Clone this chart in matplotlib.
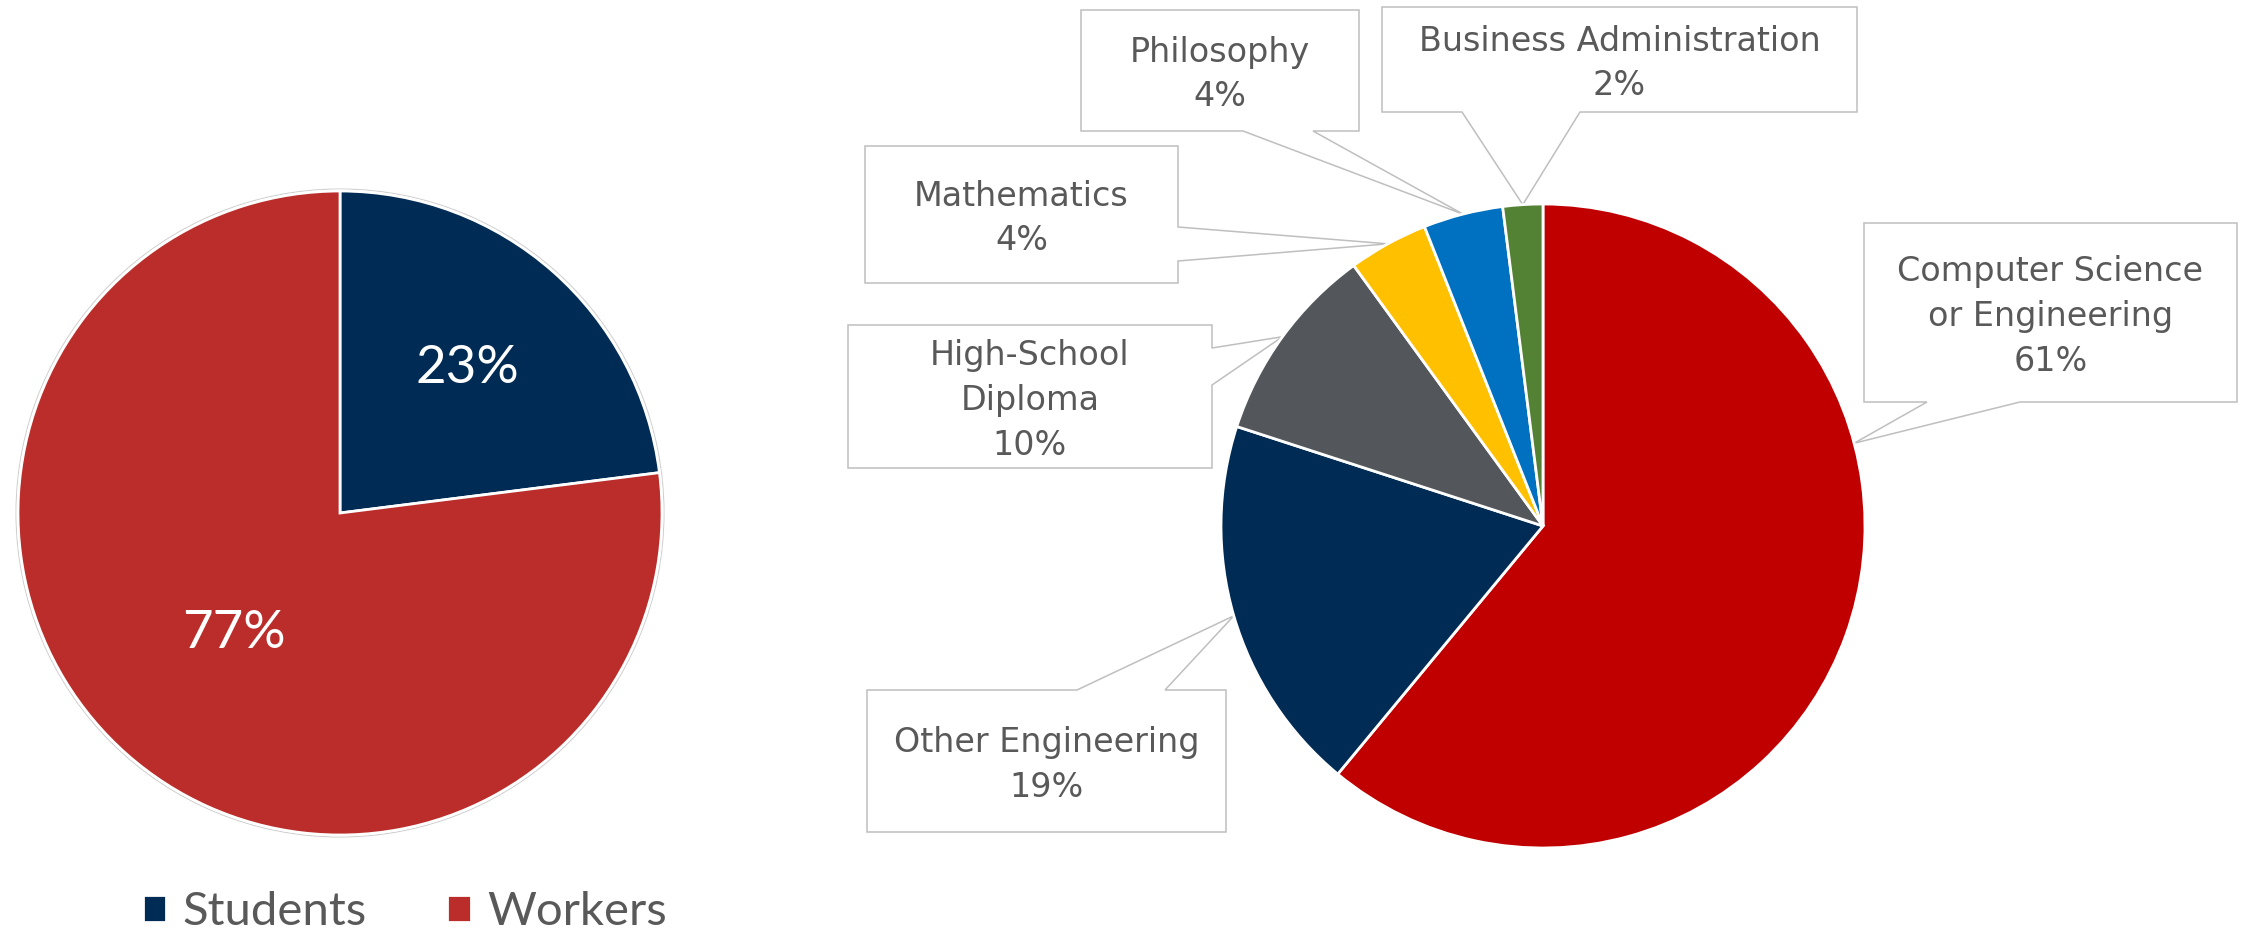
import numpy as np
import matplotlib
matplotlib.use('Agg')
from matplotlib import pyplot as plt
from matplotlib.patches import Polygon, Circle

plt.rcParams['font.family'] = ['Lato', 'DejaVu Sans']

# Students vs workers
share_labels = ['Students', 'Workers']
share_values = [23, 77]
share_colors = ['#002B55', '#BA2D2A']

# Degree background
major_labels = ['Computer Science\nor Engineering', 'Other Engineering', 'High-School\nDiploma',
                'Mathematics', 'Philosophy', 'Business Administration']
major_values = [61, 19, 10, 4, 4, 2]
major_colors = ['#C00000', '#002B55', '#53565A', '#FFC000', '#0070C0', '#548235']

W, H = 2244, 935
TXT = '#595959'
EDGE = '#BFBFBF'


def Y(y):
    # pixel row (from top) -> data y
    return H - y


fig = plt.figure(figsize=(W / 100, H / 100), dpi=100)
ax = fig.add_axes([0, 0, 1, 1])

# left pie
c1, r1 = (340, Y(513)), 322
ax.add_patch(Circle(c1, r1 + 2, facecolor='none', edgecolor='#D0D0D0', lw=0.8, zorder=0.8))
wedges1, _, pct1 = ax.pie(share_values, colors=share_colors, startangle=90, counterclock=False,
                          center=c1, radius=r1, autopct=lambda p: f'{p:.0f}%', pctdistance=0.6,
                          wedgeprops={'edgecolor': 'white', 'linewidth': 2},
                          textprops={'color': 'white', 'fontsize': 38})
# pull the big slice label a bit closer to the centre
px, py = pct1[1].get_position()
pct1[1].set_position((c1[0] + (px - c1[0]) * 0.5 / 0.6, c1[1] + (py - c1[1]) * 0.5 / 0.6))

# right pie
c2, r2 = (1543, Y(526)), 322
wedges2, _ = ax.pie(major_values, colors=major_colors, startangle=90, counterclock=False,
                    center=c2, radius=r2, wedgeprops={'edgecolor': 'white', 'linewidth': 2})

# callouts: box (x0, y0, x1, y1 from top), pointer side, pointer base, anchor along wedge
boxes = [(1864, 223, 2237, 402), (867, 690, 1226, 832), (848, 325, 1212, 468),
         (865, 146, 1178, 283), (1081, 10, 1359, 131), (1382, 7, 1857, 112)]
sides = ['bottom', 'top', 'right', 'right', 'bottom', 'bottom']
bases = [(1927, 2020), (1077, 1165), (348, 385), (227, 261), (1243, 1313), (1462, 1580)]
anchor = [0.658, 0.5, 0.5, 0.5, 0.5, 0.5]

for w, lab, val, box, side, (b1, b2), f in zip(wedges2, major_labels, major_values,
                                               boxes, sides, bases, anchor):
    a = np.deg2rad(w.theta1 + (w.theta2 - w.theta1) * f)
    tip = (c2[0] + r2 * np.cos(a), H - (c2[1] + r2 * np.sin(a)))
    x0, y0, x1, y1 = box
    if side == 'bottom':
        pts = [(x0, y0), (x1, y0), (x1, y1), (b2, y1), tip, (b1, y1), (x0, y1)]
    elif side == 'top':
        pts = [(x0, y0), (b1, y0), tip, (b2, y0), (x1, y0), (x1, y1), (x0, y1)]
    else:
        pts = [(x0, y0), (x1, y0), (x1, b1), tip, (x1, b2), (x1, y1), (x0, y1)]
    pts = [(x, Y(y)) for x, y in pts]
    ax.add_patch(Polygon(pts, closed=True, facecolor='white', edgecolor=EDGE, lw=1.1, zorder=0.5))
    ax.text((x0 + x1) / 2, Y((y0 + y1) / 2 + 4), f'{lab}\n{val}%', ha='center', va='center',
            fontsize=24, color=TXT, linespacing=1.45, zorder=3, family='DejaVu Sans')

ax.legend(wedges1, share_labels, loc='center', bbox_to_anchor=(405, Y(912)),
          bbox_transform=ax.transData, ncol=2, frameon=False, prop={'size': 34},
          labelcolor=TXT, handlelength=0.5, handleheight=0.5, handletextpad=0.35,
          columnspacing=1.7)

ax.set_xlim(0, W)
ax.set_ylim(0, H)
ax.set_aspect('auto')
ax.axis('off')

fig.savefig('out.png', dpi=100)
